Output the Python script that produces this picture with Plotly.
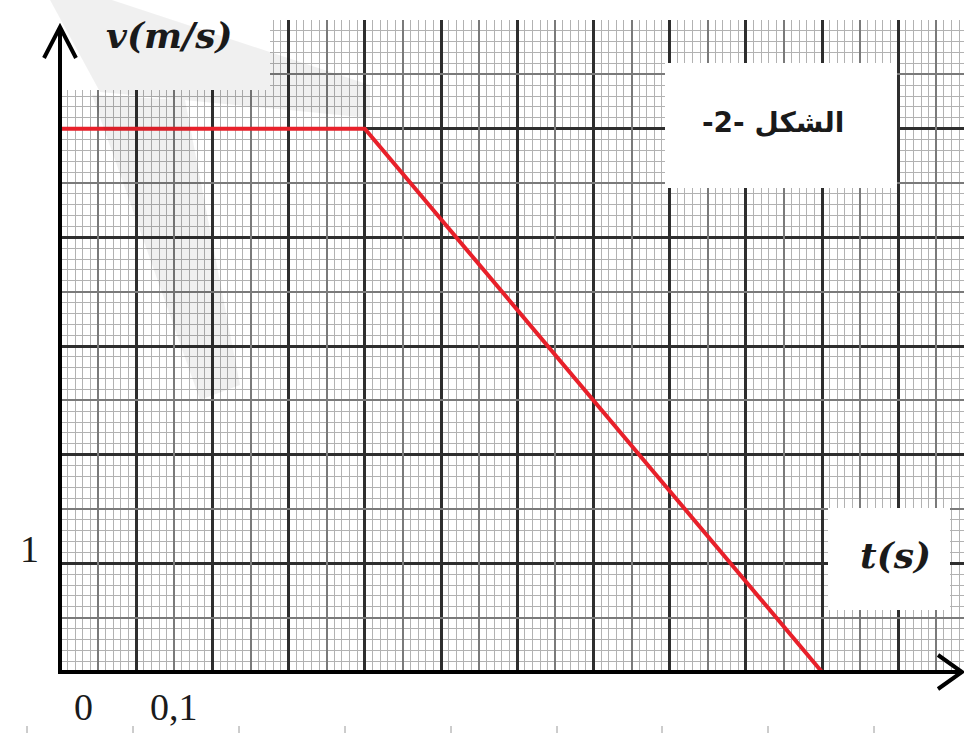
import numpy as np
import plotly.graph_objects as go

# ---- data ----
t_values = [0.0, 0.4, 1.0]          # s
v_values = [5.0, 5.0, 0.0]          # m/s
x_tick_labels = ["0", "0,1"]
x_tick_pos = [0.0, 0.1]
y_tick_labels = ["1"]
y_tick_pos = [1.0]
x_title = "t(s)"
y_title = "v(m/s)"
fig_label = "-2- الشكل"

W, H = 964, 733
def px(x):
    return x / W
def py(y):
    return 1 - y / H

X0, X1 = 60, 964      # grid pixel extents
Y0, Y1 = 672, 20
x_range = [0, (X1 - X0) / 762.0]
y_range = [0, 6]

fig = go.Figure()
fig.add_trace(go.Scatter(x=t_values, y=v_values, mode="lines",
                         line=dict(color="#e8202a", width=4),
                         hoverinfo="skip", showlegend=False))
# dummy trace for overlay (medium grid) axes
fig.add_trace(go.Scatter(x=[None], y=[None], xaxis="x2", yaxis="y2",
                         showlegend=False, hoverinfo="skip"))

half_x = np.arange(0.05, x_range[1], 0.1)
half_y = np.arange(0.5, 6, 1.0)

common = dict(showline=False, zeroline=False, showticklabels=False, ticks="")
fig.update_layout(
    width=W, height=H, margin=dict(l=0, r=0, t=0, b=0),
    paper_bgcolor="white", plot_bgcolor="white",
    xaxis=dict(domain=[px(X0), 1], range=x_range, dtick=0.1, tick0=0,
               showgrid=True, gridcolor="#2e2e2e", gridwidth=2.5,
               minor=dict(dtick=0.01, tick0=0, showgrid=True, gridcolor="#b2b2b2", gridwidth=1.2),
               **common),
    yaxis=dict(domain=[py(Y0), py(Y1)], range=y_range, dtick=1, tick0=0,
               showgrid=True, gridcolor="#2e2e2e", gridwidth=2.5,
               minor=dict(dtick=0.1, tick0=0, showgrid=True, gridcolor="#b2b2b2", gridwidth=1.2),
               **common),
    xaxis2=dict(overlaying="x", domain=[px(X0), 1], range=x_range,
                tickmode="array", tickvals=list(half_x),
                showgrid=True, gridcolor="#7a7a7a", gridwidth=2, **common),
    yaxis2=dict(overlaying="y", domain=[py(Y0), py(Y1)], range=y_range,
                tickmode="array", tickvals=list(half_y),
                showgrid=True, gridcolor="#7a7a7a", gridwidth=2, **common),
)

def poly(points):
    return "M " + " L ".join(f"{px(a)} {py(b)}" for a, b in points) + " Z"

shapes = []
white = dict(type="rect", xref="paper", yref="paper", fillcolor="white",
             line=dict(width=0), layer="above")
# white boxes behind labels
shapes.append(dict(white, x0=px(62), x1=px(270), y0=py(90), y1=py(0)))
shapes.append(dict(white, x0=px(828), x1=px(950), y0=py(610), y1=py(508)))
shapes.append(dict(white, x0=px(665), x1=px(897), y0=py(188), y1=py(63)))
# faint watermark bands
wm = dict(type="path", xref="paper", yref="paper", fillcolor="rgba(0,0,0,0.06)",
          line=dict(width=0), layer="above")
shapes.append(dict(wm, path=poly([(50, 0), (112, 0), (370, 85), (370, 118), (100, 92)])))
shapes.append(dict(wm, path=poly([(92, 95), (185, 100), (240, 385), (200, 400)])))
# axes lines
ax_line = dict(color="black", width=4)
shapes.append(dict(type="line", xref="paper", yref="paper", x0=px(58), x1=px(960),
                   y0=py(672), y1=py(672), line=ax_line, layer="above"))
shapes.append(dict(type="line", xref="paper", yref="paper", x0=px(60), x1=px(60),
                   y0=py(674), y1=py(28), line=ax_line, layer="above"))
# arrow heads (chevrons)
shapes.append(dict(type="path", xref="paper", yref="paper",
                   path=f"M {px(44)} {py(58)} L {px(60)} {py(27)} L {px(76)} {py(58)}",
                   line=dict(color="black", width=4), layer="above"))
shapes.append(dict(type="path", xref="paper", yref="paper",
                   path=f"M {px(938)} {py(655)} L {px(962)} {py(672)} L {px(938)} {py(689)}",
                   line=dict(color="black", width=4), layer="above"))
# page ruler marks at bottom
for xm in [27, 133, 239, 345, 451, 557, 662, 768, 874]:
    shapes.append(dict(type="line", xref="paper", yref="paper", x0=px(xm), x1=px(xm),
                       y0=py(733), y1=py(726), line=dict(color="#9a9a9a", width=1)))
fig.update_layout(shapes=shapes)

ann = []
serif_bi = dict(family="DejaVu Serif", size=36, color="#1a1a1a", weight="bold", style="italic")
ann.append(dict(text=y_title, xref="paper", yref="paper", x=px(169), y=py(35),
                showarrow=False, font=serif_bi, xanchor="center", yanchor="middle"))
ann.append(dict(text=x_title, xref="paper", yref="paper", x=px(895), y=py(555),
                showarrow=False, font=serif_bi, xanchor="center", yanchor="middle"))
ann.append(dict(text=fig_label, xref="paper", yref="paper", x=px(773), y=py(122),
                showarrow=False, font=dict(family="DejaVu Sans", size=28, color="#1a1a1a", weight="bold"),
                xanchor="center", yanchor="middle"))
tick_font = dict(family="Liberation Serif", size=38, color="#1a1a1a")
for lab, pos, shift in zip(x_tick_labels, x_tick_pos, [23, 38]):
    ann.append(dict(text=lab, xref="x", yref="paper", x=pos, y=py(707), xshift=shift,
                    showarrow=False, font=tick_font, xanchor="center", yanchor="middle"))
for lab, pos in zip(y_tick_labels, y_tick_pos):
    ann.append(dict(text=lab, xref="paper", yref="y", x=px(29), y=pos, yshift=14,
                    showarrow=False, font=tick_font, xanchor="center", yanchor="middle"))
fig.update_layout(annotations=ann)

fig.write_html("out.html", config={"displayModeBar": False},
               post_script="document.body.style.margin='0px';")
